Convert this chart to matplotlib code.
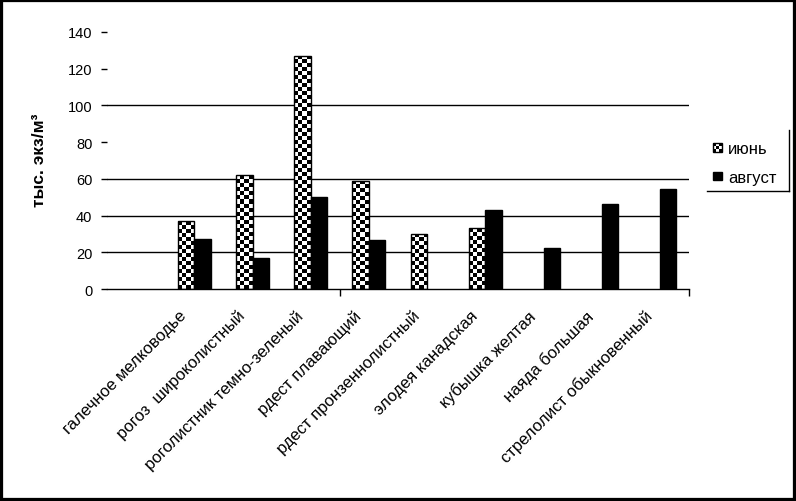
import numpy as np
import matplotlib
matplotlib.use('Agg')
import matplotlib.pyplot as plt
from matplotlib.patches import Rectangle
from matplotlib.legend_handler import HandlerBase
from matplotlib.transforms import ScaledTranslation
from matplotlib.lines import Line2D

plt.rcParams['font.family'] = ['Liberation Sans', 'DejaVu Sans']

categories = ["", "галечное мелководье", "рогоз  широколистный",
              "роголистник темно-зеленый", "рдест плавающий",
              "рдест пронзеннолистный", "элодея канадская",
              "кубышка желтая", "наяда большая", "стрелолист обыкновенный"]
june = [np.nan, 37, 62, 127, 59, 30, 33, np.nan, np.nan, np.nan]
august = [np.nan, 27, 17, 50, 26.5, np.nan, 43, 22.5, 46.5, 54.5]
series_labels = ["июнь", "август"]
y_ticks = [0, 20, 40, 60, 80, 100, 120, 140]
visible_grid = [20, 40, 60, 100]
ylabel = "тыс. экз/м³"

fig = plt.figure(figsize=(7.96, 5.02), dpi=100)
ax = fig.add_axes([107/796, 1-290/502, (689-107)/796, (290-33)/502])
x = np.arange(len(categories))
w = 0.285
bj = ax.bar(x - w/2, june, w, facecolor='none', edgecolor='black', lw=1, zorder=3)
ba = ax.bar(x + w/2, august, w, color='black', edgecolor='black', lw=1, zorder=3)
ax.set_xlim(-0.5, len(categories)-0.5)
ax.set_ylim(0, 140)

# checkerboard fill for June bars
p0 = ax.transData.transform((0, 0)); p1 = ax.transData.transform((1, 1))
sx, sy = p1[0]-p0[0], p1[1]-p0[1]
cell = 4.0
for rect in bj.patches:
    h = rect.get_height()
    if not np.isfinite(h) or h <= 0:
        continue
    x0 = rect.get_x(); wd = rect.get_width()
    nx = max(1, int(round(wd*sx/cell))); ny = max(1, int(round(h*sy/cell)))
    board = (np.add.outer(np.arange(ny), np.arange(nx)) % 2).astype(float)
    im = ax.imshow(board, cmap='gray', vmin=0, vmax=1, extent=(x0, x0+wd, 0, h),
                   origin='lower', interpolation='nearest', aspect='auto', zorder=2.5)
    im.set_clip_path(rect)
ax.set_xlim(-0.5, len(categories)-0.5)
ax.set_ylim(0, 140)

for g in visible_grid:
    ax.axhline(g, color='black', lw=1, zorder=1)

for s in ['left', 'right', 'top']:
    ax.spines[s].set_visible(False)
ax.spines['bottom'].set_color('black')
ax.spines['bottom'].set_linewidth(1)

ax.set_yticks(y_ticks)
ax.tick_params(axis='y', direction='out', length=4, width=1, colors='black', labelsize=10.5, pad=6.5)
ax.set_xticks(x)
ax.set_xticklabels(categories, rotation=45, ha='right', va='center', rotation_mode='anchor', fontsize=12)
ax.tick_params(axis='x', which='major', length=0, pad=0)
ax.set_xticks([3.5, 9.5], minor=True)
ax.tick_params(axis='x', which='minor', direction='out', length=5, width=1, colors='black')
off = ScaledTranslation(-10/100, -24/100, fig.dpi_scale_trans)
for lbl in ax.get_xticklabels():
    lbl.set_transform(lbl.get_transform() + off)

fig.text(40/796, 1-160/502, ylabel, rotation=90, fontweight='bold', fontsize=12.5,
         ha='center', va='center')


class SwatchHandler(HandlerBase):
    def __init__(self, checker):
        super().__init__()
        self.checker = checker

    def create_artists(self, legend, orig_handle, xdescent, ydescent, width, height, fontsize, trans):
        s = height * 0.7
        x0 = -xdescent + (width - s)
        y0 = -ydescent + (height - s) / 2
        arts = []
        if self.checker:
            n = 3
            c = s / n
            arts.append(Rectangle((x0, y0), s, s, facecolor='white', edgecolor='black', lw=1, transform=trans))
            for i in range(n):
                for j in range(n):
                    if (i + j) % 2 == 0:
                        arts.append(Rectangle((x0 + i*c, y0 + j*c), c, c, facecolor='black',
                                              edgecolor='none', transform=trans))
        else:
            arts.append(Rectangle((x0, y0), s, s, facecolor='black', edgecolor='black', lw=1, transform=trans))
        return arts


hj = Rectangle((0, 0), 1, 1)
ha_ = Rectangle((0, 0), 1, 1)
leg = fig.legend([hj, ha_], series_labels, loc='upper left',
                 bbox_to_anchor=(704/796, 1-134/502), frameon=False, fontsize=12,
                 handler_map={hj: SwatchHandler(True), ha_: SwatchHandler(False)},
                 handlelength=0.55, handletextpad=0.4, labelspacing=0.8,
                 borderpad=0.5, borderaxespad=0)

# legend frame (right and bottom edges, as in the original)
fx0, fx1, fy0, fy1 = 707/796, 789/796, 1-192/502, 1-131/502
fig.add_artist(Line2D([fx1, fx1], [fy0, fy1], transform=fig.transFigure, color='black', lw=1))
fig.add_artist(Line2D([fx0, fx1], [fy0, fy0], transform=fig.transFigure, color='black', lw=1))

fig.add_artist(Rectangle((0, 0), 1, 1, transform=fig.transFigure, fill=False, lw=4.5, edgecolor='black'))

fig.savefig('out.png', dpi=100)
